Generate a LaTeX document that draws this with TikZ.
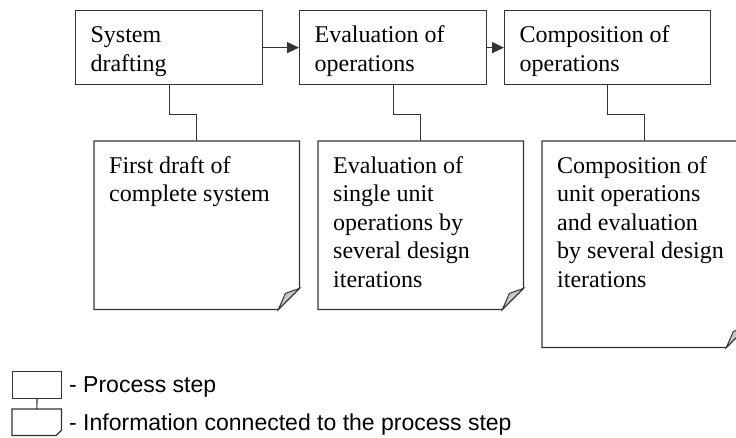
\documentclass[tikz,border=0pt]{standalone}
\usepackage{fontspec}
\setmainfont{Liberation Serif}
\newfontfamily\legendfont{Liberation Sans}
\usetikzlibrary{arrows.meta}

\newcommand{\inbox}[3]{\parbox[t][#1][t]{#2}{\raggedright\strut #3}}

\tikzset{
  stepbox/.style={draw=black!80, line width=1.2pt, anchor=north west,
    inner xsep=15pt, inner ysep=12pt, font=\fontsize{24}{28.5}\selectfont},
  notebox/.style={anchor=north west, inner xsep=15pt, inner ysep=12pt,
    font=\fontsize{24}{28.5}\selectfont},
  link/.style={draw=black!80, line width=1.2pt},
  flow/.style={link, -{Triangle[length=12pt,width=11pt]}},
  fold/.style={draw=black!80, line width=1pt, fill=black!22},
  keytext/.style={anchor=base west, inner sep=0pt, font=\legendfont\fontsize{23}{27}\selectfont}
}

\begin{document}
\begin{tikzpicture}[x=1pt,y=-1pt]
	\clip (0,0) rectangle (736,437);
	% process steps
	\node[stepbox] (drafting) at (75,10) {\inbox{50pt}{157pt}{System\\drafting}};
	\node[stepbox] (evaluation) at (299,10) {\inbox{50pt}{157pt}{Evaluation of\\operations}};
	\node[stepbox] (composition) at (504,10) {\inbox{50pt}{176pt}{Composition of\\operations}};
	\draw[flow] (drafting) -- (evaluation);
	\draw[flow] (evaluation) -- (composition);
	% information sheets
	\node[notebox] (draftinfo) at (94,141) {\inbox{144pt}{175pt}{First draft of\\complete system}};
	\node[notebox] (evalinfo) at (318,141) {\inbox{144pt}{175pt}{Evaluation of\\single unit\\operations by\\several design\\iterations}};
	\node[notebox] (compinfo) at (542,141) {\inbox{182pt}{175pt}{Composition of\\unit operations\\and evaluation\\by several design\\iterations}};
	\foreach \info in {draftinfo,evalinfo,compinfo} {
		\draw[link] (\info.north west) -- (\info.north east) -- ([yshift=21pt]\info.south east)
			-- ([xshift=-21pt]\info.south east) -- (\info.south west) -- cycle;
		\draw[fold] ([yshift=21pt]\info.south east) -- ([xshift=-14pt,yshift=16pt]\info.south east)
			-- ([xshift=-21pt]\info.south east) -- cycle;
	}
	\draw[link] (drafting.south) -- ++(0,29) -| (draftinfo.north);
	\draw[link] (evaluation.south) -- ++(0,29) -| (evalinfo.north);
	\draw[link] (composition.south) -- ++(0,29) -| (compinfo.north);
	% legend
	\node[draw=black!80, line width=1.2pt, anchor=north west, inner sep=0pt,
		minimum width=49pt, minimum height=27pt] (stepkey) at (12,371) {};
	\node[anchor=north west, inner sep=0pt, minimum width=49pt, minimum height=26pt] (infokey) at (12,409) {};
	\draw[link] (infokey.north west) -- (infokey.north east) -- ([yshift=5pt]infokey.south east)
		-- ([xshift=-5pt]infokey.south east) -- (infokey.south west) -- cycle;
	\draw[link] (stepkey) -- (infokey);
	\node[keytext] (stepkeytext) at (69,392) {- Process step};
	\node[keytext] (infokeytext) at (69,430) {- Information connected to the process step};
\end{tikzpicture}
\end{document}
